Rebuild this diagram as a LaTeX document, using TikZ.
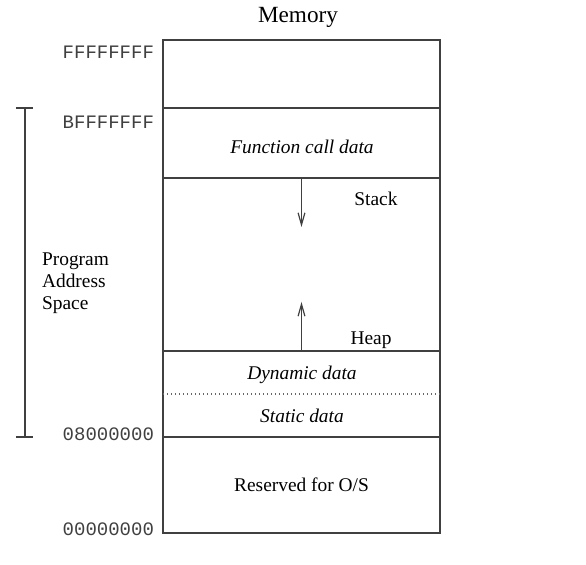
\documentclass[tikz,border=0pt]{standalone}
\usepackage{fontspec}
\setmainfont{Liberation Serif}
\setmonofont{Liberation Mono}
\usetikzlibrary{arrows.meta,positioning}

\begin{document}
\begin{tikzpicture}[x=0.5pt,y=-0.5pt]
      \tikzset{region/.style={draw=black!75,
          line width=0.6pt,
          minimum width=138.5pt,
          inner sep=0pt,
          outer sep=0pt},
        addr/.style={anchor=east,text=black!75,
          font=\ttfamily\fontsize{9.5}{11}\selectfont},
        words/.style={font=\fontsize{9.7}{11}\selectfont},
        grows/.style={draw=black!75,line width=0.6pt,
          -{Straight Barb[length=6pt,width=3.4pt]}}
      }
      \useasboundingbox (0,0) rectangle (586,565);

      \node [words,font=\fontsize{11.6}{13}\selectfont,anchor=base] (title) at (298,23) {Memory};

      \node [region,minimum height=34pt] (top) at (301.5,74) {};
      \node [region,minimum height=35pt,below=0pt of top] (call) {};
      \node [region,minimum height=86.5pt,below=0pt of call] (free) {};
      \node [region,minimum height=43pt,below=0pt of free] (data) {};
      \node [region,minimum height=48pt,below=0pt of data] (os) {};
      \draw [black!60,line width=0.6pt,dash pattern=on 0.5pt off 1.5pt] (data.west)--(data.east);

      \node [words] (calltext) at (302,147) {\itshape Function call data};
      \node [words] (dyntext) at (302,375) {\itshape Dynamic data};
      \node [words] (stattext) at (302,416) {\itshape Static data};
      \node [words] (ostext) at (os.center) {Reserved for O/S};
      \node [words] (stack) at (376,199) {Stack};
      \node [words] (heap) at (371,340) {Heap};

      \draw [grows] (free.north)--++(0,49);
      \draw [grows] (free.south)--++(0,-49);

      \node [addr] (a4) at (161,52) {FFFFFFFF};
      \node [addr] (a3) at (161,122) {BFFFFFFF};
      \node [addr] (a1) at (161,434) {08000000};
      \node [addr] (a0) at (161,529) {00000000};

      % program address space bracket
      \coordinate (ptop) at (25,108);
      \coordinate (pbot) at (25,437);
      \draw [black!75,line width=0.6pt] (ptop)--(pbot);
      \draw [black!75,line width=0.6pt] ([xshift=-4.5pt]ptop)--([xshift=4pt]ptop);
      \draw [black!75,line width=0.6pt] ([xshift=-4.5pt]pbot)--([xshift=4pt]pbot);
      \node [words,anchor=west,align=left] (prog) at (35,283) {Program\\Address\\Space};
\end{tikzpicture}
\end{document}
